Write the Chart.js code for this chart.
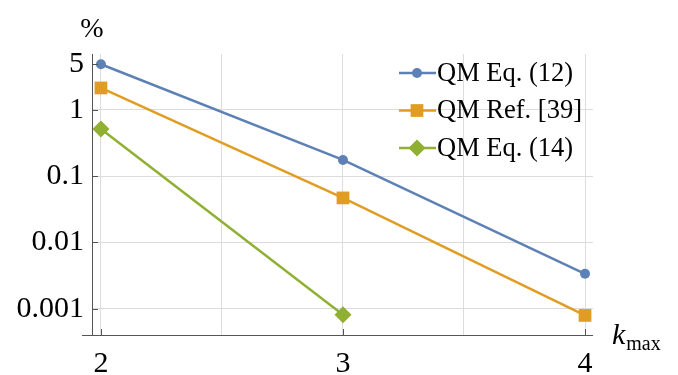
<!DOCTYPE html><html><head><meta charset="utf-8">
<script src="https://cdn.jsdelivr.net/npm/chart.js@4"></script>
<style>html,body{margin:0;padding:0;background:#fff}#c{display:block}</style>
</head><body>
<canvas id="c" width="678" height="375"></canvas>
<script>
const kmax = [2, 3, 4];
const eq12 = [4.9, 0.176, 0.00336];
const ref39 = [2.15, 0.047, 0.00079];
const eq14 = [0.517, 0.00081];
const yTicks = [5, 1, 0.1, 0.01, 0.001];
const yTickLabels = ['5', '1', '0.1', '0.01', '0.001'];
const xTicks = [2, 2.5, 3, 3.5, 4];
const xTickLabels = ['2', '', '3', '', '4'];
const seriesNames = ['QM Eq. (12)', 'QM Ref. [39]', 'QM Eq. (14)'];
const colors = ['#5E81B5', '#E19C24', '#8FB032'];
const styles = ['circle', 'rect', 'rectRot'];
const radii = [5, 9, 8.5];
const FONT = '"Liberation Serif", "Times New Roman", serif';

function pts(vals){ return vals.map((v,i)=>({x:kmax[i], y:v})); }

function drawMarker(ctx, style, r, x, y, color){
  ctx.save();
  ctx.fillStyle = color;
  ctx.beginPath();
  if (style === 'circle') { ctx.arc(x, y, r, 0, Math.PI*2); }
  else if (style === 'rect') { const s = r*Math.SQRT1_2; ctx.rect(x-s, y-s, 2*s, 2*s); }
  else { ctx.moveTo(x-r, y); ctx.lineTo(x, y-r); ctx.lineTo(x+r, y); ctx.lineTo(x, y+r); ctx.closePath(); }
  ctx.fill();
  ctx.restore();
}

const deco = {
  id: 'deco',
  afterDraw(chart){
    const ctx = chart.ctx, a = chart.chartArea;
    const xs = chart.scales.x, ys = chart.scales.y;
    ctx.save();
    ctx.strokeStyle = '#555';
    ctx.lineWidth = 1;
    ctx.beginPath();
    ctx.moveTo(a.left - 10, a.bottom + 0.5); ctx.lineTo(a.right, a.bottom + 0.5);
    ctx.moveTo(a.left + 0.5, a.top); ctx.lineTo(a.left + 0.5, a.bottom);
    yTicks.forEach(v => { const p = Math.round(ys.getPixelForValue(v)) + 0.5; ctx.moveTo(a.left, p); ctx.lineTo(a.left + 6, p); });
    xTicks.forEach((v,i) => { if (!xTickLabels[i]) return; const p = Math.round(xs.getPixelForValue(v)) + 0.5; ctx.moveTo(p, a.bottom); ctx.lineTo(p, a.bottom - 6); });
    ctx.stroke();
    ctx.fillStyle = '#000';
    ctx.textBaseline = 'alphabetic';
    ctx.textAlign = 'center';
    ctx.font = '28px ' + FONT;
    ctx.fillText('%', a.left, 37);
    ctx.textAlign = 'left';
    ctx.font = 'italic 30px ' + FONT;
    ctx.fillText('k', 612, 344);
    const kw = ctx.measureText('k').width;
    ctx.font = '20px ' + FONT;
    ctx.fillText('max', 612 + kw + 1, 350);
    for (let i = 0; i < 3; i++) {
      const y = 73 + i * 37.5;
      ctx.strokeStyle = colors[i];
      ctx.lineWidth = 2.5;
      ctx.beginPath(); ctx.moveTo(399, y); ctx.lineTo(436, y); ctx.stroke();
      drawMarker(ctx, styles[i], radii[i], 417, y, colors[i]);
      ctx.fillStyle = '#000';
      ctx.font = '26.5px ' + FONT;
      ctx.textBaseline = 'middle';
      ctx.fillText(seriesNames[i], 437, y + 1);
    }
    ctx.restore();
  }
};

const ds = (label, data, i) => ({
  label, data: pts(data), borderColor: colors[i], backgroundColor: colors[i],
  borderWidth: 2.5, pointStyle: styles[i], pointRadius: radii[i], pointHoverRadius: radii[i],
  pointBorderWidth: 0, tension: 0, clip: false
});

const chart = new Chart(document.getElementById('c'), {
  type: 'line',
  data: { datasets: [ds(seriesNames[0], eq12, 0), ds(seriesNames[1], ref39, 1), ds(seriesNames[2], eq14, 2)] },
  options: {
    responsive: false, animation: false, devicePixelRatio: 1,
    layout: { padding: { left: 0, top: 54, right: 85, bottom: 0 } },
    plugins: { legend: { display: false }, tooltip: { enabled: false } },
    scales: {
      x: {
        type: 'linear', min: 1.963, max: 4.033,
        afterBuildTicks: s => { s.ticks = xTicks.map(v => ({ value: v })); },
        afterFit: s => { s.height = 40; },
        ticks: { callback: (v, i) => xTickLabels[i], font: { family: FONT, size: 30 }, color: '#000', padding: 11, maxRotation: 0, autoSkip: false },
        grid: { color: '#dcdcdc', drawTicks: false },
        border: { display: false }
      },
      y: {
        type: 'logarithmic', min: 0.0004, max: 7,
        afterBuildTicks: s => { s.ticks = yTicks.map(v => ({ value: v })); },
        afterFit: s => { s.width = 92; },
        ticks: { callback: (v, i) => yTickLabels[i], font: { family: FONT, size: 30 }, color: '#000', padding: 8, autoSkip: false },
        grid: { color: c => (c.tick && c.tick.value === 5) ? 'rgba(0,0,0,0)' : '#dcdcdc', drawTicks: false },
        border: { display: false }
      }
    }
  },
  plugins: [deco]
});
</script></body></html>
